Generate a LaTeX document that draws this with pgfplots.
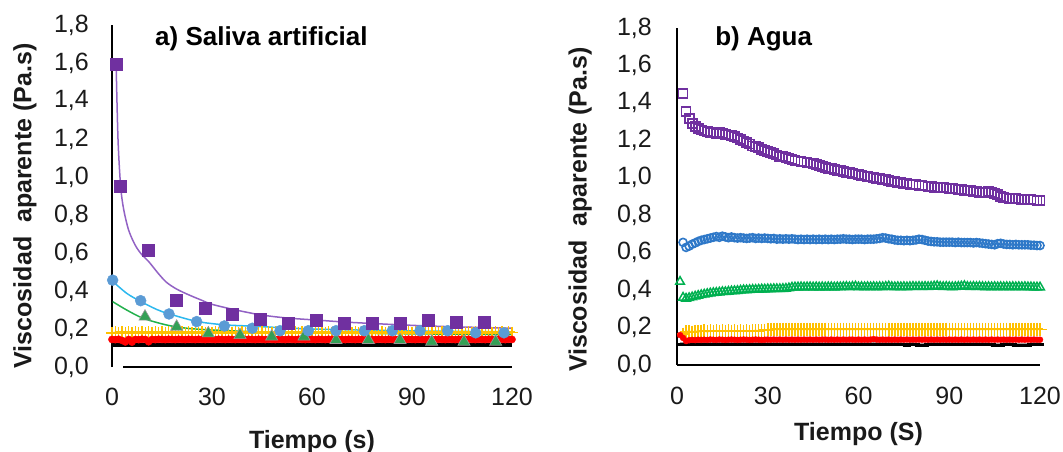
\documentclass[border=0pt]{standalone}
\usepackage{fontspec}
\setmainfont{Liberation Sans}
\usepackage{pgfplots}
\usepackage{pgfplotstable}
\pgfplotsset{compat=1.18}

\definecolor{pu}{HTML}{7030A0}
\definecolor{puline}{HTML}{9262C4}
\definecolor{blA}{HTML}{5B9BD5}
\definecolor{cyanline}{HTML}{2DB8EE}
\definecolor{grA}{HTML}{33A055}
\definecolor{grline}{HTML}{22B04C}
\definecolor{blB}{HTML}{2E78C8}
\definecolor{grB}{HTML}{00B050}
\definecolor{ye}{HTML}{FFC000}
\definecolor{re}{HTML}{FF0000}
\definecolor{tx}{HTML}{1A1A1A}

% ---- left panel: sparse series (saliva artificial)
\pgfplotstableread{
t v
1.4 1.593
2.6 0.949
10.9 0.614
19.4 0.353
27.9 0.312
36.2 0.279
44.6 0.251
53.0 0.233
61.4 0.247
69.7 0.233
78.1 0.233
86.4 0.233
94.9 0.247
103.2 0.238
111.6 0.238
}\puA
\pgfplotstableread{
t v
1.2 1.62
1.8 1.20
2.6 0.95
3.5 0.83
5 0.72
7 0.64
9 0.59
11 0.555
14 0.49
16.4 0.445
19.4 0.41
23 0.38
26.4 0.355
30 0.33
36.4 0.303
44.4 0.275
52.4 0.258
61.4 0.247
70.4 0.236
86.4 0.222
100 0.213
120 0.204
}\puAfit
\pgfplotstableread{
t v
0.2 0.457
8.6 0.349
17.1 0.279
25.4 0.239
33.7 0.216
42.1 0.204
50.4 0.191
58.9 0.191
67.2 0.191
75.7 0.191
84.1 0.191
92.4 0.191
100.7 0.191
109.1 0.180
117.6 0.180
}\blAd
\pgfplotstableread{
t v
0 0.454
4.4 0.388
8.6 0.345
13.4 0.303
17.1 0.280
25.4 0.240
33.7 0.222
42 0.215
60 0.200
90 0.190
120 0.185
}\blAfit
\pgfplotstableread{
t v
9.9 0.265
19.4 0.212
28.9 0.177
38.4 0.168
47.9 0.160
57.6 0.160
67.2 0.142
76.9 0.142
86.4 0.142
95.9 0.133
105.6 0.133
115.1 0.133
}\grAd
\pgfplotstableread{
t v
0.2 0.344
4.4 0.300
9.4 0.256
16.4 0.221
22.4 0.204
30 0.195
45 0.185
70 0.178
120 0.170
}\grAfit
% left panel: dense series (yellow, red, black)
\pgfplotstableread{
t ye re bk
0 0.180 0.145 0.117
1 0.182 0.144 0.117
2 0.180 0.146 0.117
3 0.183 0.140 0.117
4 0.181 0.132 0.117
5 0.182 0.145 0.117
6 0.180 0.131 0.117
7 0.183 0.145 0.117
8 0.181 0.144 0.117
9 0.182 0.146 0.117
10 0.180 0.145 0.117
11 0.183 0.133 0.117
12 0.181 0.145 0.117
13 0.182 0.144 0.117
14 0.180 0.146 0.117
15 0.183 0.145 0.117
16 0.181 0.144 0.117
17 0.182 0.146 0.117
18 0.180 0.145 0.117
19 0.183 0.144 0.117
20 0.181 0.146 0.117
21 0.182 0.145 0.117
22 0.180 0.144 0.117
23 0.183 0.146 0.117
24 0.181 0.145 0.117
25 0.182 0.144 0.117
26 0.180 0.146 0.117
27 0.183 0.145 0.117
28 0.181 0.144 0.117
29 0.182 0.146 0.117
30 0.180 0.145 0.117
31 0.183 0.144 0.117
32 0.181 0.146 0.117
33 0.182 0.145 0.117
34 0.180 0.144 0.117
35 0.183 0.146 0.117
36 0.181 0.145 0.117
37 0.182 0.144 0.117
38 0.180 0.146 0.117
39 0.183 0.145 0.117
40 0.181 0.144 0.117
41 0.182 0.146 0.117
42 0.180 0.145 0.117
43 0.183 0.144 0.117
44 0.181 0.146 0.117
45 0.182 0.145 0.117
46 0.180 0.144 0.117
47 0.183 0.146 0.117
48 0.181 0.145 0.117
49 0.182 0.144 0.117
50 0.180 0.146 0.117
51 0.183 0.145 0.117
52 0.181 0.144 0.117
53 0.182 0.146 0.117
54 0.180 0.145 0.117
55 0.183 0.144 0.117
56 0.181 0.146 0.117
57 0.182 0.145 0.117
58 0.180 0.144 0.117
59 0.183 0.146 0.117
60 0.181 0.145 0.117
61 0.182 0.144 0.117
62 0.180 0.146 0.117
63 0.183 0.145 0.117
64 0.181 0.144 0.117
65 0.182 0.146 0.117
66 0.180 0.145 0.117
67 0.183 0.144 0.117
68 0.181 0.146 0.117
69 0.182 0.145 0.117
70 0.180 0.144 0.117
71 0.183 0.146 0.117
72 0.181 0.145 0.117
73 0.182 0.144 0.117
74 0.180 0.146 0.117
75 0.183 0.145 0.117
76 0.181 0.144 0.117
77 0.182 0.146 0.117
78 0.180 0.145 0.117
79 0.183 0.144 0.117
80 0.181 0.146 0.117
81 0.182 0.145 0.117
82 0.180 0.144 0.117
83 0.183 0.146 0.117
84 0.181 0.145 0.117
85 0.182 0.144 0.117
86 0.180 0.146 0.117
87 0.183 0.145 0.117
88 0.181 0.144 0.117
89 0.182 0.146 0.117
90 0.180 0.145 0.117
91 0.183 0.144 0.117
92 0.181 0.146 0.117
93 0.182 0.145 0.117
94 0.180 0.144 0.117
95 0.183 0.146 0.117
96 0.181 0.145 0.117
97 0.182 0.144 0.117
98 0.180 0.146 0.117
99 0.183 0.145 0.117
100 0.181 0.144 0.117
101 0.182 0.146 0.117
102 0.180 0.145 0.117
103 0.183 0.144 0.117
104 0.181 0.146 0.117
105 0.182 0.145 0.117
106 0.180 0.144 0.117
107 0.183 0.146 0.117
108 0.181 0.145 0.117
109 0.182 0.144 0.117
110 0.180 0.146 0.117
111 0.183 0.145 0.117
112 0.181 0.144 0.117
113 0.182 0.146 0.117
114 0.180 0.145 0.117
115 0.183 0.144 0.117
116 0.181 0.146 0.117
117 0.182 0.145 0.117
118 0.180 0.144 0.117
119 0.183 0.146 0.117
120 0.181 0.145 0.117
}\dataA

% ---- right panel (agua): one row per second
\pgfplotstableread{
t pu bl gr ye re bk
1 nan nan 0.445 nan 0.160 0.112
2 1.450 0.655 0.360 0.165 0.145 0.112
3 1.355 0.628 0.355 0.178 0.128 0.110
4 1.315 0.635 0.358 0.180 0.132 0.110
5 1.290 0.645 0.362 0.176 0.134 0.112
6 1.272 0.652 0.366 0.180 0.133 0.112
7 1.262 0.660 0.370 0.178 0.135 0.112
8 1.255 0.666 0.374 0.180 0.134 0.112
9 1.250 0.670 0.377 0.182 0.135 0.112
10 1.246 0.674 0.380 0.178 0.134 0.112
11 1.242 0.678 0.383 0.182 0.136 0.112
12 1.240 0.682 0.385 0.180 0.135 0.112
13 1.238 0.686 0.386 0.182 0.134 0.112
14 1.240 0.682 0.388 0.180 0.136 0.112
15 1.236 0.688 0.390 0.183 0.135 0.112
16 1.232 0.684 0.390 0.180 0.134 0.112
17 1.228 0.680 0.392 0.182 0.135 0.112
18 1.224 0.684 0.394 0.181 0.136 0.112
19 1.220 0.680 0.395 0.183 0.135 0.112
20 1.212 0.678 0.396 0.180 0.134 0.112
21 1.205 0.680 0.398 0.182 0.135 0.112
22 1.196 0.678 0.400 0.181 0.136 0.112
23 1.188 0.676 0.400 0.183 0.135 0.112
24 1.180 0.678 0.401 0.180 0.134 0.112
25 1.170 0.680 0.402 0.182 0.135 0.112
26 1.165 0.676 0.402 0.184 0.136 0.112
27 1.160 0.678 0.403 0.182 0.135 0.112
28 1.152 0.676 0.404 0.184 0.134 0.112
29 1.146 0.678 0.404 0.186 0.135 0.112
30 1.140 0.676 0.405 0.188 0.136 0.112
31 1.135 0.674 0.405 0.190 0.135 0.112
32 1.130 0.676 0.406 0.190 0.136 0.112
33 1.122 0.672 0.406 0.191 0.135 0.112
34 1.115 0.674 0.406 0.190 0.136 0.112
35 1.112 0.672 0.407 0.191 0.135 0.112
36 1.110 0.674 0.408 0.190 0.136 0.112
37 1.104 0.672 0.410 0.191 0.135 0.112
38 1.098 0.674 0.414 0.190 0.136 0.112
39 1.094 0.672 0.415 0.191 0.135 0.112
40 1.090 0.670 0.415 0.190 0.136 0.112
41 1.088 0.672 0.416 0.191 0.135 0.112
42 1.084 0.670 0.415 0.190 0.136 0.112
43 1.080 0.672 0.416 0.191 0.135 0.112
44 1.079 0.670 0.416 0.190 0.136 0.112
45 1.075 0.672 0.415 0.191 0.135 0.112
46 1.070 0.670 0.416 0.190 0.136 0.112
47 1.066 0.672 0.415 0.191 0.135 0.112
48 1.060 0.670 0.416 0.190 0.136 0.112
49 1.054 0.672 0.415 0.191 0.136 0.112
50 1.050 0.670 0.416 0.190 0.135 0.112
51 1.050 0.672 0.416 0.191 0.136 0.112
52 1.045 0.670 0.415 0.190 0.135 0.112
53 1.040 0.672 0.416 0.191 0.136 0.112
54 1.038 0.672 0.416 0.190 0.135 0.112
55 1.034 0.674 0.417 0.191 0.136 0.112
56 1.030 0.672 0.418 0.190 0.135 0.112
57 1.028 0.672 0.416 0.191 0.136 0.112
58 1.024 0.670 0.418 0.190 0.136 0.112
59 1.020 0.672 0.420 0.191 0.135 0.112
60 1.018 0.672 0.416 0.190 0.136 0.112
61 1.014 0.672 0.417 0.191 0.135 0.112
62 1.010 0.670 0.416 0.190 0.136 0.112
63 1.008 0.672 0.417 0.191 0.135 0.112
64 1.004 0.672 0.416 0.190 0.136 0.112
65 1.000 0.672 0.417 0.191 0.138 0.112
66 0.998 0.674 0.416 0.190 0.136 0.112
67 0.995 0.676 0.417 0.191 0.135 0.112
68 0.992 0.680 0.416 0.190 0.136 0.112
69 0.990 0.678 0.418 0.191 0.135 0.112
70 0.986 0.674 0.420 0.190 0.136 0.112
71 0.982 0.672 0.417 0.191 0.135 0.112
72 0.980 0.668 0.416 0.190 0.136 0.112
73 0.976 0.666 0.417 0.191 0.135 0.112
74 0.974 0.666 0.416 0.190 0.136 0.112
75 0.970 0.664 0.417 0.191 0.135 0.108
76 0.968 0.666 0.416 0.190 0.136 0.106
77 0.966 0.664 0.417 0.191 0.135 0.112
78 0.964 0.666 0.418 0.190 0.136 0.112
79 0.962 0.668 0.417 0.191 0.135 0.108
80 0.960 0.672 0.418 0.190 0.136 0.106
81 0.958 0.670 0.417 0.191 0.135 0.106
82 0.956 0.666 0.418 0.190 0.136 0.106
83 0.955 0.662 0.417 0.191 0.135 0.112
84 0.952 0.660 0.418 0.190 0.136 0.112
85 0.950 0.658 0.420 0.191 0.135 0.112
86 0.950 0.658 0.422 0.190 0.136 0.112
87 0.948 0.656 0.418 0.191 0.135 0.112
88 0.946 0.656 0.417 0.190 0.136 0.112
89 0.945 0.656 0.418 0.191 0.135 0.112
90 0.944 0.656 0.417 0.190 0.136 0.112
91 0.942 0.656 0.416 0.191 0.135 0.112
92 0.940 0.654 0.417 0.190 0.136 0.112
93 0.938 0.656 0.418 0.191 0.135 0.112
94 0.936 0.654 0.420 0.190 0.136 0.112
95 0.934 0.654 0.422 0.191 0.135 0.112
96 0.932 0.654 0.418 0.190 0.136 0.112
97 0.930 0.654 0.417 0.191 0.135 0.112
98 0.928 0.652 0.418 0.190 0.136 0.112
99 0.926 0.654 0.417 0.191 0.135 0.112
100 0.922 0.652 0.418 0.190 0.136 0.112
101 0.920 0.650 0.417 0.191 0.135 0.112
102 0.922 0.648 0.416 0.190 0.136 0.112
103 0.926 0.646 0.417 0.191 0.135 0.112
104 0.922 0.644 0.416 0.190 0.136 0.108
105 0.916 0.642 0.417 0.191 0.135 0.106
106 0.910 0.648 0.416 0.190 0.136 0.106
107 0.902 0.650 0.417 0.191 0.135 0.106
108 0.896 0.646 0.416 0.190 0.136 0.112
109 0.892 0.644 0.417 0.191 0.135 0.112
110 0.890 0.644 0.416 0.190 0.136 0.112
111 0.890 0.642 0.417 0.191 0.135 0.108
112 0.889 0.644 0.416 0.190 0.136 0.106
113 0.887 0.642 0.417 0.191 0.135 0.106
114 0.886 0.642 0.416 0.190 0.136 0.106
115 0.885 0.642 0.417 0.191 0.135 0.106
116 0.884 0.642 0.416 0.190 0.136 0.106
117 0.882 0.640 0.416 0.191 0.135 0.112
118 0.881 0.640 0.415 0.190 0.136 0.112
119 0.880 0.638 0.415 0.191 0.135 0.112
120 0.880 0.638 0.415 0.190 0.135 0.112
}\dataB

\pgfplotsset{
  panel/.style={
    scale only axis,
    xmin=0, xmax=120, ymin=0, ymax=1.8,
    xtick={0,30,60,90,120},
    ytick={0,0.2,0.4,0.6,0.8,1,1.2,1.4,1.6,1.8},
    axis lines*=left,
    axis line style={-, line width=1.5bp, black},
    major tick length=0pt,
    tick style={draw=none},
    clip=false,
    yticklabel style={font=\fontsize{25bp}{25bp}\selectfont, text=tx, anchor=east, inner sep=0pt,
      /pgf/number format/fixed, /pgf/number format/fixed zerofill,
      /pgf/number format/precision=1, /pgf/number format/use comma,
      /pgf/number format/assume math mode=true},
    xticklabel style={font=\fontsize{25bp}{25bp}\selectfont, text=tx, anchor=north, inner sep=0pt,
      /pgf/number format/assume math mode=true},
    label style={font=\bfseries\fontsize{25bp}{25bp}\selectfont, text=tx, inner sep=0pt},
  }
}

\begin{document}
\begin{tikzpicture}
\path[use as bounding box] (0,0) rectangle (1063bp,452bp);

% ================= left panel
\begin{axis}[panel,
  at={(112bp,85bp)}, anchor=south west,
  width=400bp, height=342bp,
  x axis line style={shorten <=11bp},
  yticklabel style={xshift=-23bp},
  xticklabel style={yshift=-21bp},
  xlabel={Tiempo (s)},
  xlabel style={at={(axis description cs:0.5,-0.237)}, anchor=base},
  ylabel={Viscosidad\ \ aparente (Pa.s)},
  ylabel style={at={(axis description cs:-0.2175,0.471)}, anchor=center},
]
\addplot[black, line width=3.5bp] table[x=t, y=bk] {\dataA};
\addplot[ye, line width=1.5bp, mark=+, mark size=6bp, mark options={line width=1.5bp}] table[x=t, y=ye] {\dataA};
\addplot[re, only marks, mark=*, mark size=3.6bp] table[x=t, y=re] {\dataA};
\addplot[grline, line width=1.5bp, smooth] table[x=t, y=v] {\grAfit};
\addplot[only marks, mark=triangle*, mark size=7bp, mark options={fill=grA, draw=gray!80, line width=0.6bp}] table[x=t, y=v] {\grAd};
\addplot[cyanline, line width=1.5bp, smooth] table[x=t, y=v] {\blAfit};
\addplot[only marks, mark=*, mark size=5.5bp, mark options={fill=blA, draw=blA}] table[x=t, y=v] {\blAd};
\addplot[puline, line width=1.5bp, smooth] table[x=t, y=v] {\puAfit};
\addplot[only marks, mark=square*, mark size=6bp, mark options={fill=pu, draw=pu}] table[x=t, y=v] {\puA};
\node[anchor=base west, inner sep=0pt, font=\bfseries\fontsize{26bp}{26bp}\selectfont, text=black]
  at (axis description cs:0.1075,0.9415) {a) Saliva artificial};
\end{axis}

% ================= right panel
\begin{axis}[panel,
  at={(677bp,87bp)}, anchor=south west,
  width=363bp, height=337bp,
  yticklabel style={xshift=-25bp},
  xticklabel style={yshift=-22bp},
  xlabel={Tiempo (S)},
  xlabel style={at={(axis description cs:0.5,-0.2255)}, anchor=base},
  ylabel={Viscosidad\ \ aparente (Pa.s)},
  ylabel style={at={(axis description cs:-0.267,0.461)}, anchor=center},
]
\addplot[black, line width=3bp, mark=-, mark size=4bp, mark options={line width=3bp}] table[x=t, y=bk] {\dataB};
\addplot[ye, line width=1.5bp, mark=+, mark size=6.5bp, mark options={line width=1.5bp}] table[x=t, y=ye] {\dataB};
\addplot[re, only marks, mark=*, mark size=3bp] table[x=t, y=re] {\dataB};
\addplot[only marks, mark=triangle, mark size=5bp, mark options={draw=grB, line width=1.5bp}] table[x=t, y=gr] {\dataB};
\addplot[only marks, mark=o, mark size=4bp, mark options={draw=blB, line width=1.6bp}] table[x=t, y=bl] {\dataB};
\addplot[only marks, mark=square, mark size=4.5bp, mark options={draw=pu, line width=1.8bp}] table[x=t, y=pu] {\dataB};
\node[anchor=base west, inner sep=0pt, font=\bfseries\fontsize{26bp}{26bp}\selectfont, text=black]
  at (axis description cs:0.105,0.947) {b) Agua};
\end{axis}
\end{tikzpicture}
\end{document}
